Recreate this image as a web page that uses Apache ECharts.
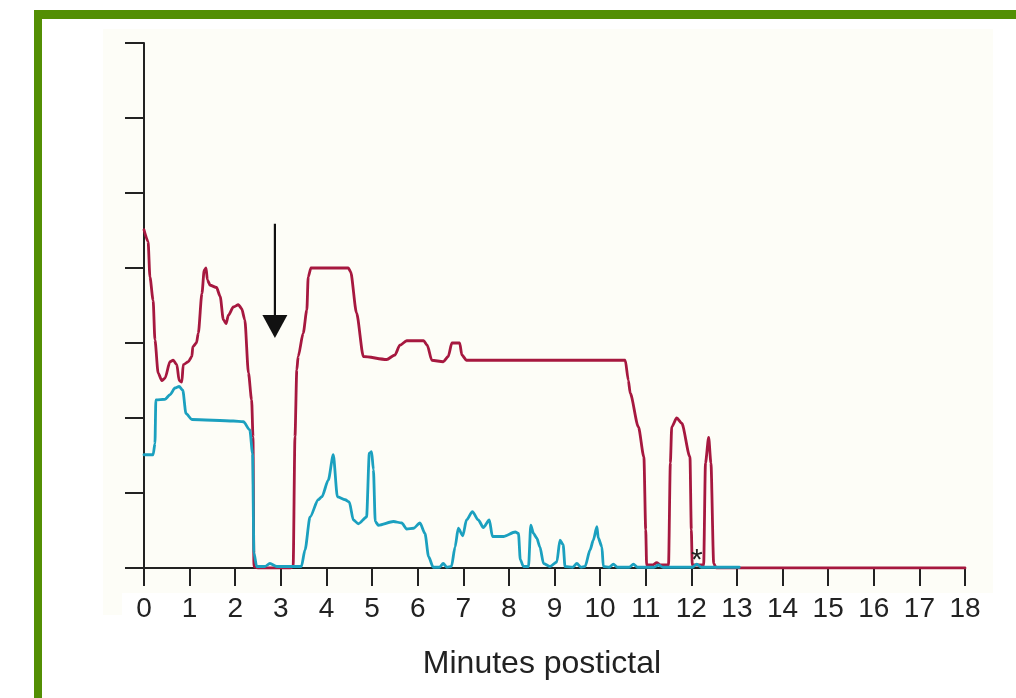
<!DOCTYPE html>
<html>
<head>
<meta charset="utf-8">
<script src="https://cdn.jsdelivr.net/npm/echarts@6/dist/echarts.min.js"></script>
<style>
html,body{margin:0;padding:0;background:#ffffff;}
#chart{width:1016px;height:698px;}
</style>
</head>
<body>
<div id="chart"></div>
<script>
// x-axis tick labels (minutes postictal)
var xTicks = ['0','1','2','3','4','5','6','7','8','9','10','11','12','13','14','15','16','17','18'];
var xTitle = 'Minutes postictal';

// crimson trace [minute, value]
var redTrace = [
[0,4.51],[0.09,4.35],[0.13,3.88],[0.2,3.57],[0.24,3.04],[0.31,2.6],[0.39,2.5],[0.46,2.53],[0.57,2.75],[0.64,2.77],
[0.72,2.71],[0.77,2.5],[0.83,2.48],[0.86,2.71],[0.97,2.75],[1.05,2.82],[1.07,2.95],[1.15,3.0],[1.19,3.13],[1.27,3.66],
[1.32,3.97],[1.36,4.0],[1.39,3.84],[1.45,3.77],[1.59,3.74],[1.67,3.62],[1.74,3.31],[1.80,3.26],[1.85,3.37],[1.96,3.48],
[2.07,3.51],[2.14,3.46],[2.21,3.31],[2.29,2.6],[2.36,2.24],[2.39,1.75],[2.41,0.02],[2.5,0],[3.2,0],[3.27,0.02],
[3.31,1.75],[3.35,2.64],[3.38,2.82],[3.49,3.13],[3.57,3.44],[3.60,3.88],[3.66,4.0],[4.48,4.0],[4.53,3.95],[4.66,3.40],
[4.81,2.82],[5.32,2.78],[5.50,2.84],[5.61,2.97],[5.76,3.03],[6.13,3.03],[6.21,2.97],[6.31,2.77],[6.56,2.75],[6.67,2.82],
[6.75,3.0],[6.92,3.0],[6.97,2.84],[7.07,2.77],[10.55,2.77],[10.62,2.5],[10.66,2.33],[10.84,1.88],[10.96,1.48],[11.0,0.51],
[11.02,0.04],[11.15,0.04],[11.24,0.07],[11.33,0.04],[11.5,0.04],[11.54,1.40],[11.57,1.88],[11.68,2.0],[11.79,1.93],[11.97,1.48],
[12.0,0.51],[12.02,0.04],[12.27,0.04],[12.31,1.4],[12.38,1.74],[12.43,1.4],[12.49,0.06],[12.55,0],[18,0]
];

// teal trace [minute, value]
var tealTrace = [
[0,1.51],[0.2,1.51],[0.24,1.66],[0.26,2.24],[0.46,2.25],[0.57,2.31],[0.68,2.40],[0.77,2.42],[0.85,2.37],[0.92,2.06],
[1.05,1.98],[1.96,1.96],[2.18,1.95],[2.32,1.84],[2.38,1.53],[2.41,0.2],[2.47,0.02],[2.65,0.02],[2.76,0.06],[2.91,0.02],
[3.45,0.02],[3.53,0.24],[3.64,0.68],[3.82,0.91],[3.90,0.95],[4.04,1.17],[4.15,1.51],[4.24,0.95],[4.41,0.91],[4.50,0.88],
[4.59,0.64],[4.70,0.59],[4.88,0.68],[4.94,1.53],[4.99,1.55],[5.03,1.31],[5.07,0.62],[5.14,0.57],[5.47,0.62],[5.65,0.60],
[5.76,0.52],[5.91,0.53],[6.05,0.60],[6.16,0.46],[6.24,0.15],[6.34,0.01],[6.48,0.01],[6.56,0.06],[6.64,0.01],[6.74,0.02],
[6.82,0.28],[6.89,0.53],[6.99,0.43],[7.07,0.64],[7.20,0.75],[7.33,0.64],[7.44,0.54],[7.57,0.64],[7.64,0.42],[7.88,0.42],
[8.14,0.48],[8.21,0.46],[8.25,0.11],[8.32,0.02],[8.43,0.02],[8.48,0.57],[8.54,0.46],[8.61,0.40],[8.68,0.28],[8.76,0.06],
[8.90,0.02],[9.05,0.08],[9.12,0.37],[9.19,0.31],[9.23,0.02],[9.40,0.01],[9.49,0.06],[9.58,0.01],[9.67,0.02],[9.78,0.24],
[9.85,0.37],[9.93,0.55],[9.96,0.40],[10.04,0.28],[10.07,0.02],[10.2,0.01],[10.29,0.05],[10.38,0.01],[10.64,0.01],[10.73,0.05],
[10.82,0.01],[11.18,0.01],[11.28,0.04],[11.38,0.01],[12.02,0.01],[12.12,0.05],[12.22,0.01],[13.05,0.01]
];

// annotation: arrow (minute, from value, to value) and asterisk
var arrowShaft = [[2.87,4.59],[2.87,3.35]];
var arrowHead = [[2.87,3.22]];
var asterisk = [[12.12,0.1]];

var chart = echarts.init(document.getElementById('chart'), null, {renderer:'canvas'});
var font = "'Liberation Sans', Arial, sans-serif";

var option = {
  animation:false,
  backgroundColor:'#ffffff',
  graphic:[
    {type:'rect', shape:{x:34,y:10,width:982,height:9}, style:{fill:'#538f04'}, z:-10},
    {type:'rect', shape:{x:34,y:10,width:8,height:688}, style:{fill:'#538f04'}, z:-10},
    {type:'rect', shape:{x:103,y:29,width:890,height:564}, style:{fill:'#fdfdf7'}, z:-10},
    {type:'rect', shape:{x:103,y:593,width:19,height:22}, style:{fill:'#fdfdf7'}, z:-10},
    {type:'text', x:542, y:664, style:{text:xTitle, font:"32px " + font, fill:'#222222', textAlign:'center', textVerticalAlign:'middle'}}
  ],
  grid:{left:144, top:43, width:821, height:525, containLabel:false},
  xAxis:{
    type:'value', min:0, max:18, interval:1,
    axisLine:{show:true, lineStyle:{color:'#222222', width:2}},
    axisTick:{show:true, length:18, lineStyle:{color:'#222222', width:2}},
    axisLabel:{show:true, margin:27, fontSize:28, fontFamily:font, color:'#222222',
      formatter:function(v){ return xTicks[Math.round(v)]; }},
    splitLine:{show:false}
  },
  yAxis:{
    type:'value', min:0, max:7, interval:1,
    axisLine:{show:true, lineStyle:{color:'#222222', width:2}},
    axisTick:{show:true, length:19, lineStyle:{color:'#222222', width:2}},
    axisLabel:{show:false},
    splitLine:{show:false}
  },
  series:[
    {type:'line', name:'red', data:redTrace, showSymbol:false, symbol:'none',
     smooth:0.25, smoothMonotone:'x',
     lineStyle:{color:'#a6183f', width:2.8, join:'round', cap:'round'}, z:3},
    {type:'line', name:'teal', data:tealTrace, showSymbol:false, symbol:'none',
     smooth:0.25, smoothMonotone:'x',
     lineStyle:{color:'#1ba0bf', width:2.8, join:'round', cap:'round'}, z:4},
    {type:'line', name:'arrow', data:arrowShaft, showSymbol:false, symbol:'none',
     lineStyle:{color:'#111111', width:2.2}, z:5},
    {type:'scatter', name:'arrowhead', data:arrowHead, symbol:'triangle', symbolRotate:180,
     symbolSize:[25,23], itemStyle:{color:'#111111', opacity:1}, z:5},
    {type:'scatter', name:'asterisk', data:asterisk, symbol:'circle', symbolSize:12,
     itemStyle:{color:'rgba(0,0,0,0)', opacity:1},
     label:{show:true, position:'inside', formatter:'*', fontSize:30, fontFamily:font, color:'#222222'}, z:6}
  ]
};
chart.setOption(option);
</script>
</body>
</html>
